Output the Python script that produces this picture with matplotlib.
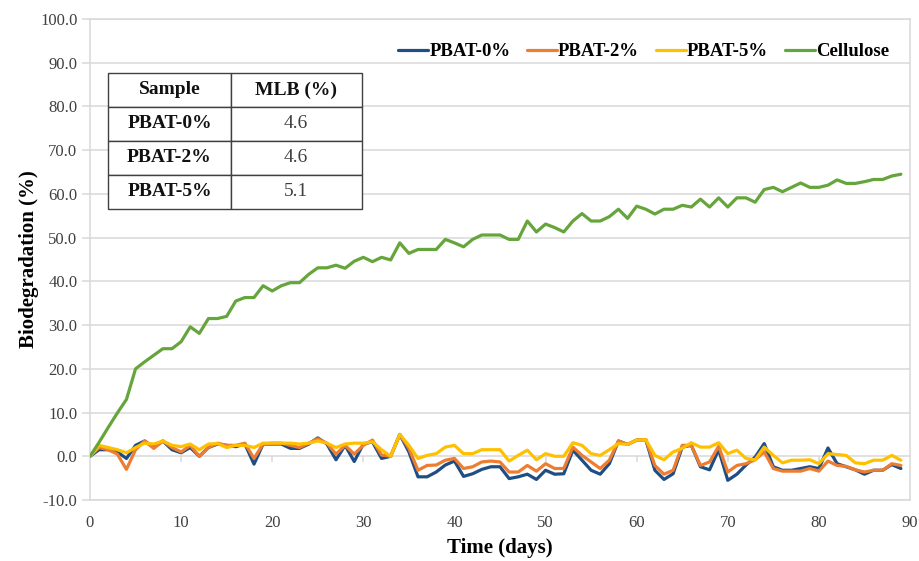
import matplotlib.pyplot as plt
import numpy as np

plt.rcParams["font.family"] = ["Liberation Serif", "DejaVu Serif"]

# biodegradation (%) per day, days 0..89
days = np.arange(0, 90)

pbat0 = [0, 1.5, 1.5, 1.0, -0.5, 2.5, 3.5, 2.0, 3.5, 1.5,
         0.8, 2.0, 0.0, 2.0, 2.8, 2.5, 2.2, 2.8, -1.8, 2.8,
         2.8, 2.8, 1.8, 1.8, 2.8, 4.2, 2.8, -0.8, 2.5, -1.2,
         2.8, 3.3, -0.5, 0.0, 5.0, 1.0, -4.7, -4.7, -3.6, -2.0,
         -1.1, -4.6, -4.0, -3.0, -2.4, -2.4, -5.1, -4.7, -4.1, -5.3,
         -3.2, -4.1, -4.0, 1.4, -0.9, -3.2, -4.1, -1.7, 3.5, 2.7,
         3.7, 3.8, -3.2, -5.3, -4.0, 2.1, 2.5, -2.4, -3.1, 1.5,
         -5.5, -4.1, -2.0, -0.2, 2.9, -2.4, -3.2, -3.2, -2.8, -2.4,
         -2.8, 1.9, -1.7, -2.4, -3.1, -4.1, -3.2, -3.2, -1.9, -2.8]

pbat2 = [0, 2.0, 1.5, 0.5, -3.0, 1.5, 3.5, 1.8, 3.5, 2.0,
         1.0, 2.5, 0.0, 2.0, 3.0, 2.5, 2.5, 3.0, -0.5, 2.8,
         3.0, 3.0, 2.5, 2.0, 3.0, 4.0, 3.0, 0.5, 2.5, 0.5,
         2.5, 3.7, 0.3, 0.0, 5.0, 1.8, -3.2, -2.1, -2.0, -0.9,
         -0.5, -2.8, -2.4, -1.3, -1.1, -1.3, -3.6, -3.6, -2.1, -3.4,
         -1.7, -2.8, -2.8, 2.1, 0.2, -1.3, -2.8, -0.9, 3.5, 2.7,
         3.7, 3.8, -2.1, -4.1, -3.2, 2.5, 2.5, -2.1, -1.3, 2.3,
         -3.6, -2.1, -1.7, -0.8, 1.0, -2.8, -3.4, -3.4, -3.4, -2.8,
         -3.4, -1.1, -2.1, -2.3, -3.1, -3.6, -3.2, -3.2, -1.7, -2.1]

pbat5 = [0, 2.5, 2.0, 1.5, 0.8, 2.0, 3.0, 2.8, 3.5, 2.5,
         2.2, 2.8, 1.5, 2.8, 2.9, 2.0, 2.5, 2.5, 2.0, 3.0,
         3.0, 3.0, 3.0, 2.8, 3.0, 3.5, 3.0, 2.0, 2.8, 3.0,
         3.0, 3.3, 1.5, 0.0, 5.0, 2.5, -0.5, 0.2, 0.6, 2.1,
         2.5, 0.6, 0.6, 1.5, 1.5, 1.5, -1.1, 0.2, 1.4, -0.8,
         0.6, 0.0, 0.0, 3.1, 2.5, 0.6, 0.2, 1.5, 2.9, 2.7,
         3.7, 3.8, 0.2, -0.8, 1.0, 1.8, 3.1, 2.1, 2.1, 3.1,
         0.6, 1.4, -0.5, -0.8, 2.1, 0.2, -1.5, -0.9, -0.9, -0.8,
         -1.7, 0.6, 0.4, 0.2, -1.5, -1.7, -0.9, -0.9, 0.2, -0.9]

cellulose = [0, 3.2, 6.6, 9.9, 13.0, 20.0, 21.6, 23.1, 24.6, 24.6,
             26.2, 29.6, 28.1, 31.5, 31.5, 32.0, 35.5, 36.3, 36.3, 39.0,
             37.8, 39.0, 39.7, 39.7, 41.6, 43.1, 43.1, 43.7, 43.0, 44.6,
             45.5, 44.5, 45.5, 44.9, 48.8, 46.4, 47.3, 47.3, 47.3, 49.6,
             48.8, 47.9, 49.6, 50.6, 50.6, 50.6, 49.6, 49.6, 53.8, 51.3,
             53.1, 52.3, 51.3, 53.8, 55.5, 53.8, 53.8, 54.8, 56.5, 54.4,
             57.2, 56.5, 55.4, 56.5, 56.5, 57.4, 57.0, 58.8, 57.0, 59.1,
             57.0, 59.1, 59.1, 58.1, 61.0, 61.5, 60.5, 61.5, 62.5, 61.5,
             61.5, 62.0, 63.2, 62.4, 62.4, 62.8, 63.3, 63.3, 64.1, 64.5]

series_names = ["PBAT-0%", "PBAT-2%", "PBAT-5%", "Cellulose"]
series_colors = ["#1F4E84", "#ED7D31", "#FFC000", "#65A53C"]

table_cols = ["Sample", "MLB (%)"]
table_samples = ["PBAT-0%", "PBAT-2%", "PBAT-5%"]
table_mlb = ["4.6", "4.6", "5.1"]

fig = plt.figure(figsize=(9.2, 5.61), dpi=100)
ax = fig.add_axes([90 / 920, 1 - 500 / 561, 820 / 920, 481 / 561])

grid_c = "#D9D9D9"
for vals, name, col in zip([pbat0, pbat2, pbat5, cellulose], series_names, series_colors):
    ax.plot(days, vals, color=col, lw=2.3, label=name,
            solid_joinstyle="round", solid_capstyle="round", zorder=3)

ax.set_xlim(0, 90)
ax.set_ylim(-10, 100)
ax.set_xticks(np.arange(0, 91, 10))
ax.set_yticks(np.arange(-10, 101, 10))
ax.set_yticklabels(["%.1f" % v for v in np.arange(-10, 101, 10)])
ax.grid(axis="y", color=grid_c, lw=1.1, zorder=0)
for s in ax.spines.values():
    s.set_color(grid_c)
    s.set_linewidth(1.1)

# small category ticks hanging off the zero line
ax.vlines(ax.get_xticks()[1:-1], -1.4, 0, color=grid_c, lw=1.1, zorder=1)

ax.tick_params(axis="x", length=0, pad=11, labelsize=12, labelcolor="#404040")
ax.tick_params(axis="y", length=6, color=grid_c, width=1.1, pad=3,
               labelsize=12, labelcolor="#404040")

ax.set_xlabel("Time (days)", fontsize=15, fontweight="bold", labelpad=5)
ax.set_ylabel("Biodegradation (%)", fontsize=15, fontweight="bold", labelpad=1)

leg = ax.legend(loc="upper right", bbox_to_anchor=(0.995, 0.985), ncol=4,
                frameon=False, handlelength=1.6,
                handletextpad=0.05, columnspacing=0.9,
                prop={"weight": "bold", "size": 13.5})

# MLB summary table
cells = [[s, m] for s, m in zip(table_samples, table_mlb)]
tab = ax.table(cellText=cells, colLabels=table_cols, cellLoc="center",
               colWidths=[0.483, 0.517],
               bbox=[18.3 / 820, 1 - (209 - 19) / 481, 253.4 / 820, 136 / 481],
               zorder=5)
tab.auto_set_font_size(False)
for (r, c), cell in tab.get_celld().items():
    cell.set_edgecolor("#404040")
    cell.set_linewidth(1.0)
    cell.set_facecolor("white")
    txt = cell.get_text()
    txt.set_fontsize(14)
    if r == 0 or c == 0:
        txt.set_fontweight("bold")
        txt.set_color("#111111")
    else:
        txt.set_color("#404040")

fig.savefig("out.png", dpi=100)
